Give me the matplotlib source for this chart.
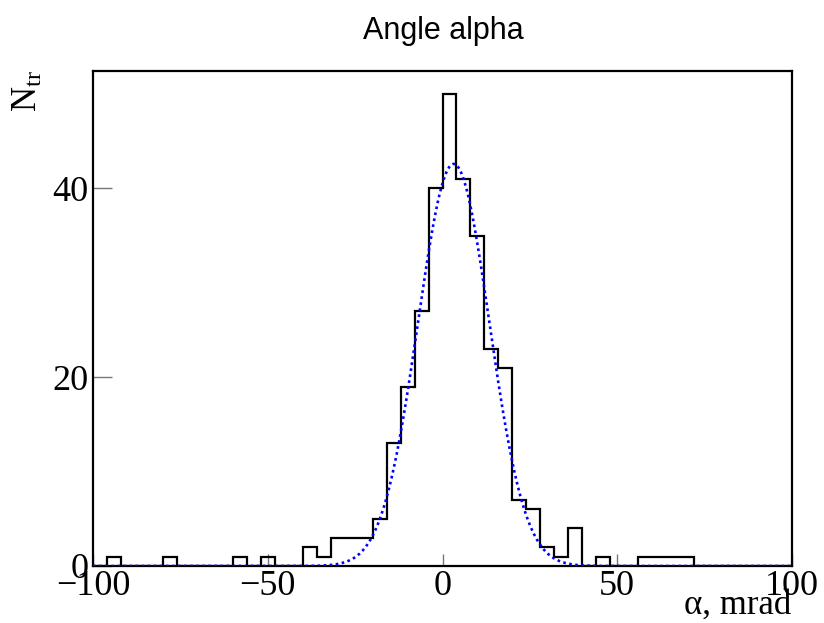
import numpy as np
import matplotlib
matplotlib.use("Agg")
import matplotlib.pyplot as plt

# ── data ──────────────────────────────────────────────────────────────
X_MIN, X_MAX, N_BINS = -100, 100, 50
counts = [0, 1, 0, 0, 0, 1, 0, 0, 0, 0,
          1, 0, 1, 0, 0, 2, 1, 3, 3, 3,
          5, 13, 19, 27, 40, 50, 41, 35, 23, 21,
          7, 6, 2, 1, 4, 0, 1, 0, 0, 1,
          1, 1, 1, 0, 0, 0, 0, 0, 0, 0]

# gaussian fit
FIT_AMP, FIT_MEAN, FIT_SIGMA = 42.6, 3.2, 10.2

x_ticks = [-100, -50, 0, 50, 100]
y_ticks = [0, 20, 40]

# ── style ─────────────────────────────────────────────────────────────
plt.rcParams["mathtext.fontset"] = "custom"
plt.rcParams["mathtext.rm"] = "Liberation Serif"
plt.rcParams["mathtext.it"] = "Liberation Serif:italic"
SERIF = "Liberation Serif"

fig = plt.figure(figsize=(8.24, 6.23), dpi=100)
ax = fig.add_axes([93 / 824, 1 - 566 / 623, 699 / 824, 495.5 / 623])

edges = np.linspace(X_MIN, X_MAX, N_BINS + 1)
ax.stairs(counts, edges, baseline=0, color="black", linewidth=1.6, zorder=3)

xf = np.linspace(X_MIN, X_MAX, 800)
yf = FIT_AMP * np.exp(-0.5 * ((xf - FIT_MEAN) / FIT_SIGMA) ** 2)
ax.plot(xf, yf, color="blue", linewidth=1.9, linestyle=(0, (1, 1.3)), zorder=4)

ax.set_xlim(X_MIN, X_MAX)
ax.set_ylim(0, 1.05 * max(counts))
ax.set_xticks(x_ticks)
ax.set_yticks(y_ticks)
ax.minorticks_off()
ax.tick_params(direction="in", color="#777777", width=1.0, labelsize=26,
               top=False, right=False)
ax.tick_params(axis="x", length=9, pad=3)
ax.tick_params(axis="y", length=14, pad=3)
for lab in ax.get_xticklabels() + ax.get_yticklabels():
    lab.set_fontfamily(SERIF)
for sp in ax.spines.values():
    sp.set_linewidth(1.6)

fig.text(443 / 824, 1 - 31 / 623, "Angle alpha", ha="center", va="center",
         fontsize=22, fontfamily="Liberation Sans")
fig.text(27 / 824, 1 - 70 / 623, r"$\mathrm{N_{tr}}$", rotation=90,
         ha="center", va="top", fontsize=25)
fig.text(791 / 824, 1 - 614 / 623, "α, mrad", ha="right", va="baseline",
         fontsize=25, fontfamily=SERIF)

fig.savefig("out.png", dpi=100)
